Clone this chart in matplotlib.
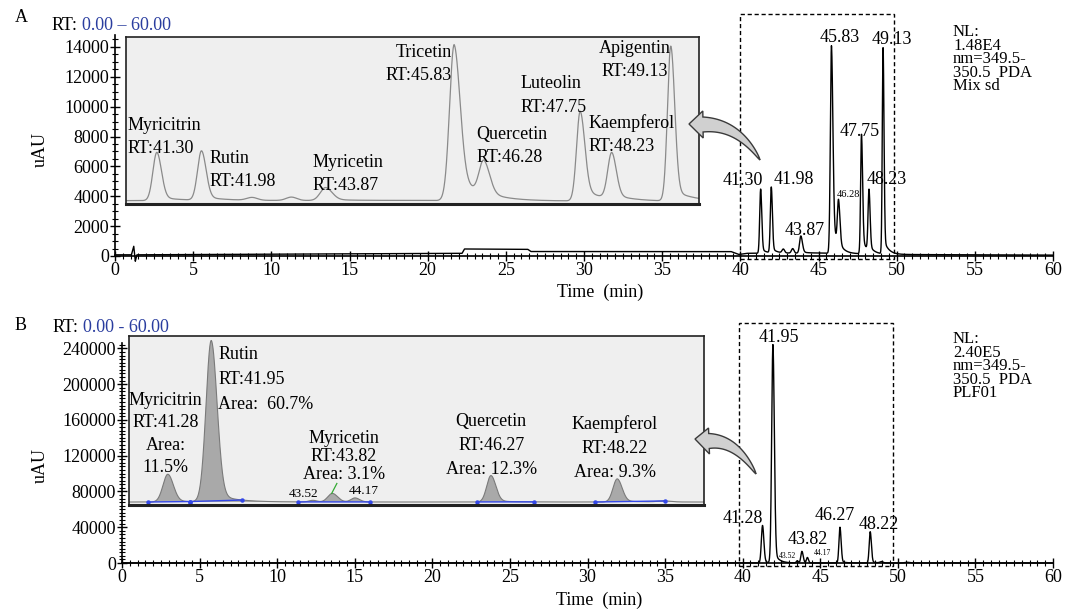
import numpy as np
import matplotlib
matplotlib.use('Agg')
import matplotlib.pyplot as plt
from matplotlib.patches import Rectangle, Polygon
from matplotlib.ticker import MultipleLocator

plt.rcParams['font.family'] = ['Liberation Serif', 'DejaVu Serif']

# ---- peak tables (RT min, height uAU, widths min, tail fraction) ----
# A: standard mix
rt_a = [41.30, 41.98, 42.75, 43.35, 43.87, 45.83, 46.28, 47.75, 48.23, 49.13]
h_a = [4300, 4400, 250, 300, 1150, 13900, 3000, 8000, 4100, 13800]
sl_a = [0.06, 0.06, 0.08, 0.08, 0.08, 0.07, 0.07, 0.055, 0.06, 0.05]
sr_a = [0.07, 0.07, 0.08, 0.08, 0.10, 0.09, 0.09, 0.07, 0.07, 0.06]
tail_a = [0.08, 0.08, 0.0, 0.0, 0.1, 0.2, 0.1, 0.15, 0.1, 0.08]
base_a_t = [0, 1.05, 1.2, 1.3, 1.4, 10, 22.2, 22.35, 26.4, 26.6, 39.4, 39.9, 40.4, 45, 50, 60]
base_a_v = [80, 80, 650, -350, 80, 120, 180, 470, 450, 300, 300, 100, 180, 200, 100, 60]

# B: sample PLF01
rt_b = [41.28, 41.95, 43.52, 43.82, 44.17, 46.27, 48.22, 48.95, 50.6]
h_b = [42000, 244000, 2500, 13000, 6000, 40000, 35000, 1500, 800]
sl_b = [0.075, 0.08, 0.06, 0.07, 0.06, 0.065, 0.065, 0.1, 0.15]
sr_b = [0.085, 0.09, 0.06, 0.08, 0.07, 0.075, 0.075, 0.1, 0.15]
tail_b = [0.05, 0.06, 0.0, 0.05, 0.0, 0.05, 0.05, 0.0, 0.0]
base_b_t = [0, 60]
base_b_v = [0, 0]

# integration baselines (blue) in inset B
int_start = [40.97, 41.62, 43.29, 46.05, 47.87]
int_end = [41.62, 42.43, 44.40, 46.93, 48.95]

# labels
lab_a = ['41.30', '41.98', '43.87', '45.83', '46.28', '47.75', '48.23', '49.13']
lab_a_rt = [41.30, 41.98, 43.87, 45.83, 46.28, 47.75, 48.23, 49.13]
lab_b = ['41.28', '41.95', '43.52', '43.82', '44.17', '46.27', '48.22']
lab_b_rt = [41.28, 41.95, 43.52, 43.82, 44.17, 46.27, 48.22]

TAU = 0.3
t = np.linspace(0, 60, 24001)


def chrom(base_t, base_v, rt, h, sl, sr, tail):
    y = np.interp(t, base_t, base_v).astype(float)
    for r, hh, a, b, f in zip(rt, h, sl, sr, tail):
        d = t - r
        dp = np.clip(d, 0, None)
        left = np.exp(-0.5 * (d / a) ** 2)
        right = (1 - f) * np.exp(-0.5 * (dp / b) ** 2) + f * np.exp(-dp / TAU)
        y += hh * np.where(d < 0, left, right)
    return y


ya = chrom(base_a_t, base_a_v, rt_a, h_a, sl_a, sr_a, tail_a)
yb = chrom(base_b_t, base_b_v, rt_b, h_b, sl_b, sr_b, tail_b)

W, H = 1077, 610
fig = plt.figure(figsize=(W / 100, H / 100), dpi=100)


def fbox(x0, y0, x1, y1):
    return [x0 / W, 1 - y1 / H, (x1 - x0) / W, (y1 - y0) / H]


ax_a = fig.add_axes(fbox(115, 35, 1053, 256))
ax_b = fig.add_axes(fbox(122, 343, 1053, 563))

for ax, ymaj, ymin in [(ax_a, 2000, 500), (ax_b, 40000, 4000)]:
    ax.set_xlim(0, 60)
    ax.xaxis.set_major_locator(MultipleLocator(5))
    ax.xaxis.set_minor_locator(MultipleLocator(0.5))
    ax.yaxis.set_major_locator(MultipleLocator(ymaj))
    ax.yaxis.set_minor_locator(MultipleLocator(ymin))
    ax.spines['top'].set_visible(False)
    ax.spines['right'].set_visible(False)
    ax.spines['left'].set_linewidth(1.2)
    ax.spines['bottom'].set_linewidth(1.2)
    ax.tick_params(which='major', direction='inout', length=7, width=1, labelsize=13, pad=1)
    ax.tick_params(which='minor', direction='inout', length=4, width=0.8)
    ax.patch.set_alpha(0)

ax_a.set_ylim(0, 14800)
ax_b.set_ylim(0, 246000)

ax_a.plot(t, ya, color='black', lw=1.0, clip_on=False)
ax_b.plot(t, yb, color='black', lw=1.0, clip_on=False)

ax_a.set_xlabel('Time  (min)', fontsize=13)
ax_a.xaxis.set_label_coords(0.517, -0.125)
ax_b.set_xlabel('Time  (min)', fontsize=13)
ax_b.xaxis.set_label_coords(0.513, -0.13)
ax_a.set_ylabel('uAU', fontsize=13)
ax_a.yaxis.set_label_coords(-0.071, 0.48)
ax_b.set_ylabel('uAU', fontsize=13)
ax_b.yaxis.set_label_coords(-0.079, 0.445)

# dashed zoom boxes
ax_a.add_patch(Rectangle((40.0, -200), 9.8, 16400, fill=False, ec='black',
                         ls=(0, (3, 2)), lw=1, clip_on=False))
ax_b.add_patch(Rectangle((39.75, -3000), 9.93, 271500, fill=False, ec='black',
                         ls=(0, (3, 2)), lw=1, clip_on=False))

# peak labels on main traces (offsets in points)
off_a = [(-13, 3), (16, 2), (3, 1), (6, 3), (7, 2), (-1, -1), (13, 4), (6, 3)]
for s, r, (dx, dy) in zip(lab_a, lab_a_rt, off_a):
    fs = 7.5 if s == '46.28' else 13
    ax_a.annotate(s, xy=(r, np.interp(r, t, ya)), xytext=(dx, dy), textcoords='offset points',
                  ha='center', va='baseline', fontsize=fs, annotation_clip=False)
off_b = [(-14, 2), (4, 2), (-7, 2), (4, 5), (11, 2), (-4, 5), (6, 2)]
for s, r, (dx, dy) in zip(lab_b, lab_b_rt, off_b):
    fs = 5.5 if s in ('43.52', '44.17') else 13
    ax_b.annotate(s, xy=(r, np.interp(r, t, yb)), xytext=(dx, dy), textcoords='offset points',
                  ha='center', va='baseline', fontsize=fs, annotation_clip=False)

# ---- insets ----
in_a = fig.add_axes(fbox(126, 37, 699, 204))
in_b = fig.add_axes(fbox(129, 336, 704, 505))
for ax in (in_a, in_b):
    ax.set_facecolor('#efefef')
    ax.set_xticks([])
    ax.set_yticks([])
    for sp in ax.spines.values():
        sp.set_linewidth(1.2)
        sp.set_color('#222222')
    ax.spines['bottom'].set_linewidth(2.2)

in_a.plot(t, ya, color='#8a8a8a', lw=0.9)
in_a.set_xlim(40.83, 49.56)
in_a.set_ylim(-120, 14760)

in_b.fill_between(t, 0, yb, color='#a9a9a9', lw=0)
in_b.plot(t, yb, color='#7a7a7a', lw=0.8)
for s, e in zip(int_start, int_end):
    in_b.plot([s, e], [np.interp(s, t, yb), np.interp(e, t, yb)], color='#3347e8',
              lw=1, marker='o', ms=2.2)
ym = np.interp(43.82, t, yb)
in_b.plot([43.81, 43.89], [ym, ym + 15000], color='#33aa33', lw=0.9)
in_b.set_xlim(40.68, 49.56)
in_b.set_ylim(-4500, 251000)


def multiline(ax, lines, fx, fy, ha, step, size=13):
    for i, s in enumerate(lines):
        ax.annotate(s, xy=(fx, fy), xycoords='axes fraction', xytext=(0, -i * step),
                    textcoords='offset points', ha=ha, va='center', fontsize=size)


multiline(in_a, ['Myricitrin', 'RT:41.30'], 0.0035, 0.473, 'left', 16.9)
multiline(in_a, ['Rutin', 'RT:41.98'], 0.145, 0.275, 'left', 16.9)
multiline(in_a, ['Myricetin', 'RT:43.87'], 0.326, 0.251, 'left', 16.9)
multiline(in_a, ['Tricetin', 'RT:45.83'], 0.569, 0.910, 'right', 16.9)
multiline(in_a, ['Quercetin', 'RT:46.28'], 0.611, 0.419, 'left', 16.9)
multiline(in_a, ['Luteolin', 'RT:47.75'], 0.688, 0.719, 'left', 16.9)
multiline(in_a, ['Kaempferol', 'RT:48.23'], 0.808, 0.485, 'left', 16.9)
multiline(in_a, ['Apigentin', 'RT:49.13'], 0.888, 0.934, 'center', 16.9)

multiline(in_b, ['Myricitrin', 'RT:41.28', 'Area:', '11.5%'], 0.064, 0.621, 'center', 16.2)
multiline(in_b, ['Rutin', 'RT:41.95', 'Area:  60.7%'], 0.155, 0.888, 'left', 18)
multiline(in_b, ['Myricetin', 'RT:43.82', 'Area: 3.1%'], 0.374, 0.396, 'center', 13)
multiline(in_b, ['Quercetin', 'RT:46.27', 'Area: 12.3%'], 0.630, 0.497, 'center', 17.3)
multiline(in_b, ['Kaempferol', 'RT:48.22', 'Area: 9.3%'], 0.845, 0.479, 'center', 17.6)
multiline(in_b, ['43.52'], 0.303, 0.065, 'center', 0, size=9.5)
multiline(in_b, ['44.17'], 0.409, 0.083, 'center', 0, size=9.5)


# ---- curved grey arrows (pixel geometry, y down) ----
def curved_arrow(tail, ctrl, neck, tip, neck_w, head_w):
    s = np.linspace(0, 1, 40)
    p0, c, n = np.array(tail), np.array(ctrl), np.array(neck)
    pts = ((1 - s) ** 2)[:, None] * p0 + (2 * s * (1 - s))[:, None] * c + (s ** 2)[:, None] * n
    der = (2 * (1 - s))[:, None] * (c - p0) + (2 * s)[:, None] * (n - c)
    der /= np.linalg.norm(der, axis=1)[:, None]
    nor = np.stack([-der[:, 1], der[:, 0]], axis=1)
    hw = 0.5 * neck_w * s ** 0.7
    up = pts + nor * hw[:, None]
    lo = pts - nor * hw[:, None]
    nd = nor[-1]
    poly = np.vstack([up, [n + nd * head_w / 2], [tip], [n - nd * head_w / 2], lo[::-1]])
    poly = np.column_stack([poly[:, 0] / W, 1 - poly[:, 1] / H])
    fig.add_artist(Polygon(poly, closed=True, transform=fig.transFigure,
                           fc='#d0d0d0', ec='#3a3a3a', lw=1, zorder=5))


curved_arrow((760, 160), (738, 124), (703, 124.5), (689, 124), 15, 27)
curved_arrow((756, 474), (736, 440), (709, 441), (695, 439), 15, 26)

# ---- figure texts ----
fig.text(15 / W, 1 - 17 / H, 'A', fontsize=13, va='center')
fig.text(15 / W, 1 - 325 / H, 'B', fontsize=13, va='center')
fig.text(52 / W, 1 - 25 / H, 'RT:', fontsize=13, va='center')
fig.text(82 / W, 1 - 25 / H, '0.00 \u2013 60.00', fontsize=13, va='center', color='#2a3d9f')
fig.text(53 / W, 1 - 328 / H, 'RT:', fontsize=13, va='center')
fig.text(83 / W, 1 - 328 / H, '0.00 - 60.00', fontsize=13, va='center', color='#2a3d9f')
fig.text(953 / W, 1 - 24 / H, 'NL:\n1.48E4\nnm=349.5-\n350.5  PDA\nMix sd',
         fontsize=12, va='top', linespacing=0.8)
fig.text(953 / W, 1 - 331 / H, 'NL:\n2.40E5\nnm=349.5-\n350.5  PDA\nPLF01',
         fontsize=12, va='top', linespacing=0.8)

fig.savefig('out.png', dpi=100)
